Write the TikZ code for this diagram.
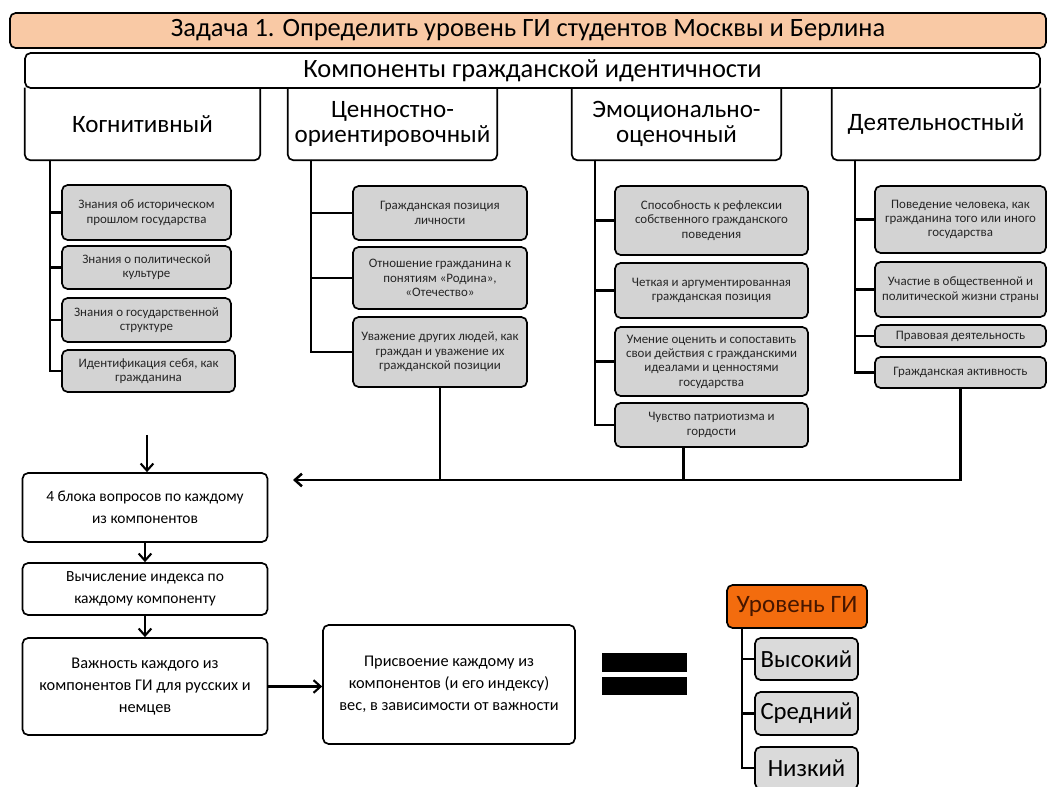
\documentclass[tikz,border=0pt]{standalone}
\usepackage{fontspec}
\setmainfont{Carlito}
\usetikzlibrary{arrows.meta}
\definecolor{titlefill}{RGB}{249,201,165}
\definecolor{itemgray}{RGB}{211,211,211}
\definecolor{levelorange}{RGB}{243,108,14}
\definecolor{leveltext}{RGB}{70,22,0}
\begin{document}
\begin{tikzpicture}[x=0.025cm,y=-0.025cm,
    sz/.style 2 args={minimum width=#1*0.025cm,minimum height=#2*0.025cm},
    gbox/.style={draw,line width=1.2pt,rounded corners=4pt,inner sep=0pt,align=center},
    hbox/.style={inner sep=0pt,align=center,font=\fontsize{17.8}{17.5}\selectfont},
    ibox/.style={gbox,fill=itemgray,text=black!85,font=\fontsize{9.2}{10.2}\selectfont},
    sbox/.style={gbox,fill=white,font=\fontsize{11}{15.5}\selectfont},
    lbox/.style={gbox,fill=itemgray!85,font=\fontsize{17.6}{18}\selectfont},
    link/.style={line width=1.5pt},
    arrowline/.style={line width=1.5pt,-{Straight Barb[length=5pt,width=9pt]}}]

    \useasboundingbox (0,0) rectangle (1048,787);

    \node[gbox,fill=titlefill,sz={1036}{35},font=\fontsize{18.8}{20}\selectfont] (title) at (528,30.5)
        {Задача 1. Определить уровень ГИ студентов Москвы и Берлина};
    \node[gbox,fill=white,sz={1015}{35},font=\fontsize{18.8}{20}\selectfont] (comp) at (532.5,70.5)
        {Компоненты гражданской идентичности};

    \node[hbox,sz={235}{72}] (kog) at (142.5,124) {Когнитивный};
    \node[hbox,sz={209}{72}] (cen) at (392.5,124) {Ценностно-\\ориентировочный};
    \node[hbox,sz={209}{72}] (emo) at (676.5,124) {Эмоционально-\\оценочный};
    \node[hbox,sz={208}{72}] (dey) at (936,124) {Деятельностный};
    \foreach \n in {kog,cen,emo,dey}
        \draw[line width=1.2pt,rounded corners=4pt] (\n.north west) |- (\n.south) -| (\n.north east);

    \node[ibox,sz={169}{55}] (k1) at (146.5,212.5) {Знания об историческом\\прошлом государства};
    \node[ibox,sz={169}{43}] (k2) at (146.5,267.5) {Знания о политической\\культуре};
    \node[ibox,sz={169}{44}] (k3) at (146.5,320) {Знания о государственной\\структуре};
    \node[ibox,sz={173}{42}] (k4) at (148.5,371) {Идентификация себя, как\\гражданина};

    \node[ibox,sz={174}{54}] (c1) at (440,213) {Гражданская позиция\\личности};
    \node[ibox,sz={174}{62}] (c2) at (440,278) {Отношение гражданина к\\понятиям «Родина»,\\«Отечество»};
    \node[ibox,sz={174}{70}] (c3) at (440,352) {Уважение других людей, как\\граждан и уважение их\\гражданской позиции};

    \node[ibox,sz={193}{69}] (e1) at (711.5,220.5) {Способность к рефлексии\\собственного гражданского\\поведения};
    \node[ibox,sz={193}{55}] (e2) at (711.5,290.5) {Четкая и аргументированная\\гражданская позиция};
    \node[ibox,sz={193}{69}] (e3) at (711.5,361.5) {Умение оценить и сопоставить\\свои действия с гражданскими\\идеалами и ценностями\\государства};
    \node[ibox,sz={193}{44}] (e4) at (711.5,425) {Чувство патриотизма и\\гордости};

    \node[ibox,sz={171}{67}] (d1) at (960.5,219.5) {Поведение человека, как\\гражданина того или иного\\государства};
    \node[ibox,sz={171}{55}] (d2) at (960.5,289.5) {Участие в общественной и\\политической жизни страны};
    \node[ibox,sz={171}{22}] (d3) at (960.5,336) {Правовая деятельность};
    \node[ibox,sz={171}{31}] (d4) at (960.5,372.5) {Гражданская активность};

    \coordinate (kt) at (50,160);
    \coordinate (ct) at (311,160);
    \coordinate (et) at (595,160);
    \coordinate (dt) at (855,160);
    \foreach \n in {k1,k2,k3,k4} \draw[link] (kt) |- (\n.west);
    \foreach \n in {c1,c2,c3} \draw[link] (ct) |- (\n.west);
    \foreach \n in {e1,e2,e3,e4} \draw[link] (et) |- (\n.west);
    \foreach \n in {d1,d2,d3,d4} \draw[link] (dt) |- (\n.west);

    \coordinate (join) at (293,480);
    \draw[arrowline,line width=1.8pt] (d4.south) |- (join);
    \draw[link] (c3.south) -- (c3.south |- join);
    \draw[link] (e4.south) ++(-28,0) coordinate (ed) -- (ed |- join);

    \node[sbox,sz={245}{69}] (qa) at (145,507.5) {4 блока вопросов по каждому\\из компонентов};
    \node[sbox,sz={245}{52}] (qb) at (145,589) {Вычисление индекса по\\каждому компоненту};
    \node[sbox,sz={245}{97},font=\fontsize{11.6}{15.5}\selectfont] (qc) at (145,686.5) {Важность каждого из\\компонентов ГИ для русских и\\немцев};
    \node[sbox,sz={252}{119},font=\fontsize{11.6}{15.5}\selectfont] (qd) at (449,684.5) {Присвоение каждому из\\компонентов (и его индексу)\\вес, в зависимости от важности};

    \coordinate (qin) at (147,435);
    \draw[arrowline] (qin) -- (qin |- qa.north);
    \draw[arrowline] (qa) -- (qb);
    \draw[arrowline] (qb) -- (qc);
    \draw[arrowline] (qc.east) -- (qc.east -| qd.west);

    \fill (602,653) rectangle (687,672);
    \fill (602,677) rectangle (687,695);

    \node[gbox,fill=levelorange,text=leveltext,sz={140}{43},font=\fontsize{17.8}{18}\selectfont] (lvl) at (797,606.5) {Уровень ГИ};
    \node[lbox,sz={103}{42}] (hi) at (806.5,659) {Высокий};
    \node[lbox,sz={103}{43}] (mid) at (806.5,713.5) {Средний};
    \node[lbox,sz={103}{42}] (lo) at (806.5,768) {Низкий};
    \coordinate (lt) at (742,628);
    \foreach \n in {hi,mid,lo} \draw[link] (lt) |- (\n.west);
\end{tikzpicture}
\end{document}
